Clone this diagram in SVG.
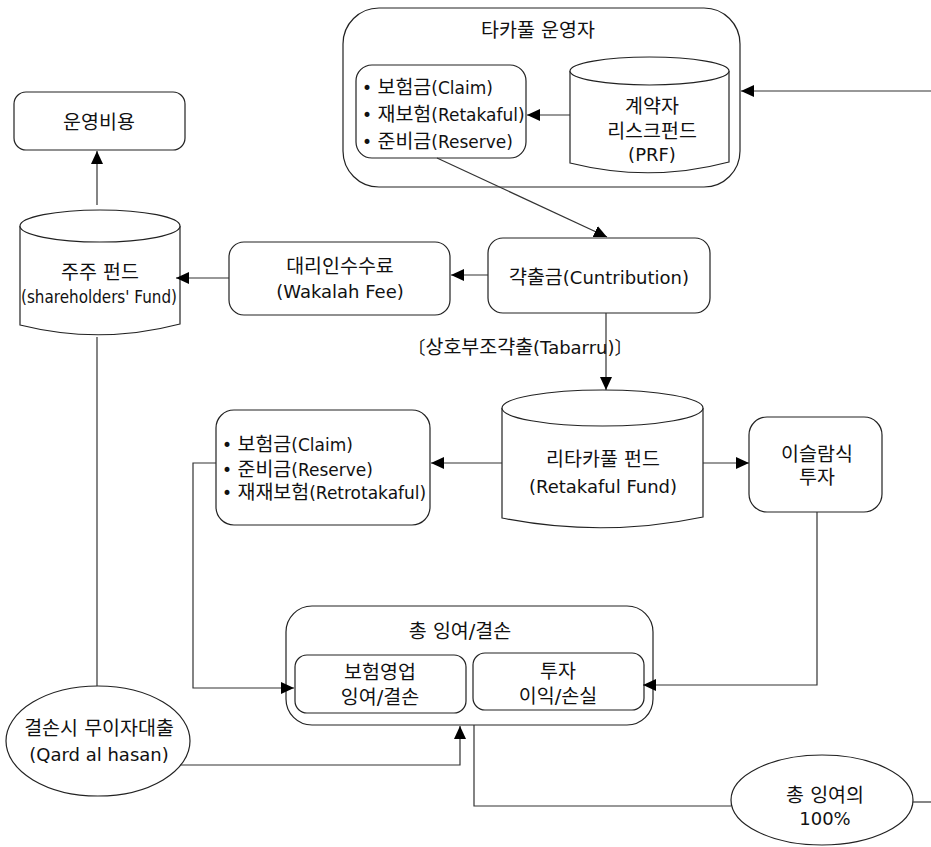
<svg xmlns="http://www.w3.org/2000/svg" width="931" height="847" viewBox="0 0 931 847">
<style>
.b{fill:#fff;stroke:#222;stroke-width:1.2}
.l{fill:none;stroke:#333;stroke-width:1.2}
text{font-family:"DejaVu Sans","Noto Sans CJK KR",sans-serif;font-size:18px;fill:#111}
.s{font-size:17px}
.k{font-size:19.5px}
.c{text-anchor:middle}
</style>
<defs>
<marker id="ar" markerUnits="userSpaceOnUse" markerWidth="14" markerHeight="12" refX="13" refY="6" orient="auto">
<path d="M0,0 L13,6 L0,12 z" fill="#000"/>
</marker>
</defs>
<rect width="931" height="847" fill="#fff"/>

<g id="operator">
<rect class="b" x="343" y="8" width="397" height="179" rx="36"/>
<text class="c k" x="538" y="37">타카풀 운영자</text>
</g>
<g id="op-items">
<rect class="b" x="356" y="65" width="170" height="93" rx="16"/>
<text class="s" x="362" y="94">• <tspan class="k">보험금</tspan>(Claim)</text>
<text class="s" x="362" y="121">• <tspan class="k">재보험</tspan>(Retakaful)</text>
<text class="s" x="362" y="148">• <tspan class="k">준비금</tspan>(Reserve)</text>
</g>
<g id="prf">
<path class="b" d="M570,71 L570,163 Q650,183 729,162 L729,71"/>
<ellipse class="b" cx="649.5" cy="71" rx="79.5" ry="14"/>
<text class="c k" x="652" y="113">계약자</text>
<text class="c k" x="652" y="138">리스크펀드</text>
<text class="c" x="652" y="161">(PRF)</text>
</g>
<g id="opcost">
<rect class="b" x="14" y="92" width="171" height="58" rx="12"/>
<text class="c k" x="99" y="129">운영비용</text>
</g>
<g id="shareholders">
<path class="b" d="M20,226 L20,325 Q100,345 180,324 L180,226"/>
<ellipse class="b" cx="100" cy="226" rx="80" ry="16"/>
<text class="c k" x="100" y="279">주주 펀드</text>
<text class="c" x="99" y="303" textLength="156" lengthAdjust="spacingAndGlyphs">(shareholders' Fund)</text>
</g>
<g id="wakalah">
<rect class="b" x="229" y="242" width="221" height="73" rx="15"/>
<text class="c k" x="340" y="273">대리인수수료</text>
<text class="c" x="340" y="298">(Wakalah Fee)</text>
</g>
<g id="contribution">
<rect class="b" x="488" y="238" width="222" height="75" rx="15"/>
<text class="c" x="599" y="284"><tspan class="k">갹출금</tspan>(Cuntribution)</text>
</g>
<g id="retakaful">
<path class="b" d="M502,408 L502,518 Q603,538 703,517 L703,408"/>
<ellipse class="b" cx="602.5" cy="408" rx="100.5" ry="18"/>
<text class="c k" x="603" y="466">리타카풀 펀드</text>
<text class="c" x="603" y="493">(Retakaful Fund)</text>
</g>
<g id="re-items">
<rect class="b" x="216" y="410" width="214" height="115" rx="18"/>
<text class="s" x="222" y="451">• <tspan class="k">보험금</tspan>(Claim)</text>
<text class="s" x="222" y="476">• <tspan class="k">준비금</tspan>(Reserve)</text>
<text class="s" x="222" y="499">• <tspan class="k">재재보험</tspan>(Retrotakaful)</text>
</g>
<g id="invest">
<rect class="b" x="749" y="417" width="133" height="95" rx="18"/>
<text class="c k" x="817" y="461">이슬람식</text>
<text class="c k" x="817" y="484">투자</text>
</g>
<g id="total">
<rect class="b" x="286" y="606" width="367" height="119" rx="26"/>
<text class="c k" x="460" y="638">총 잉여/결손</text>
</g>
<g id="underwriting">
<rect class="b" x="295" y="655" width="171" height="58" rx="12"/>
<text class="c k" x="380" y="679">보험영업</text>
<text class="c k" x="380" y="704">잉여/결손</text>
</g>
<g id="invresult">
<rect class="b" x="473" y="653" width="171" height="57" rx="12"/>
<text class="c k" x="558" y="678">투자</text>
<text class="c k" x="558" y="703">이익/손실</text>
</g>
<g id="qard">
<ellipse class="b" cx="98" cy="741" rx="92" ry="55"/>
<text class="c k" x="99" y="735">결손시 무이자대출</text>
<text class="c" x="99" y="761">(Qard al hasan)</text>
</g>
<g id="surplus">
<ellipse class="b" cx="822" cy="800" rx="91" ry="45"/>
<text class="c k" x="825" y="802">총 잉여의</text>
<text class="c" x="825" y="825">100%</text>
</g>

<g id="connectors">
<path class="l" d="M931,91 L741,91" marker-end="url(#ar)"/>
<path class="l" d="M570,115 L527,115" marker-end="url(#ar)"/>
<path class="l" d="M437,158 L607,237" marker-end="url(#ar)"/>
<path class="l" d="M97,205 L97,151" marker-end="url(#ar)"/>
<path class="l" d="M488,275 L451,275" marker-end="url(#ar)"/>
<path class="l" d="M229,278 L176,278" marker-end="url(#ar)"/>
<path class="l" d="M606,313 L606,390" marker-end="url(#ar)"/>
<path class="l" d="M502,463 L431,463" marker-end="url(#ar)"/>
<path class="l" d="M703,463 L749,463" marker-end="url(#ar)"/>
<path class="l" d="M216,463 L193,463 L193,688 L294,688" marker-end="url(#ar)"/>
<path class="l" d="M817,512 L817,685 L643,685" marker-end="url(#ar)"/>
<path class="l" d="M97,337 L97,686"/>
<path class="l" d="M180,765 L460,765 L460,726" marker-end="url(#ar)"/>
<path class="l" d="M474,725 L474,806 L731,806"/>
<path class="l" d="M913,802 L931,802"/>
<text class="c" x="520" y="354">〔<tspan class="k">상호부조갹출</tspan>(Tabarru)〕</text>
</g>
</svg>
